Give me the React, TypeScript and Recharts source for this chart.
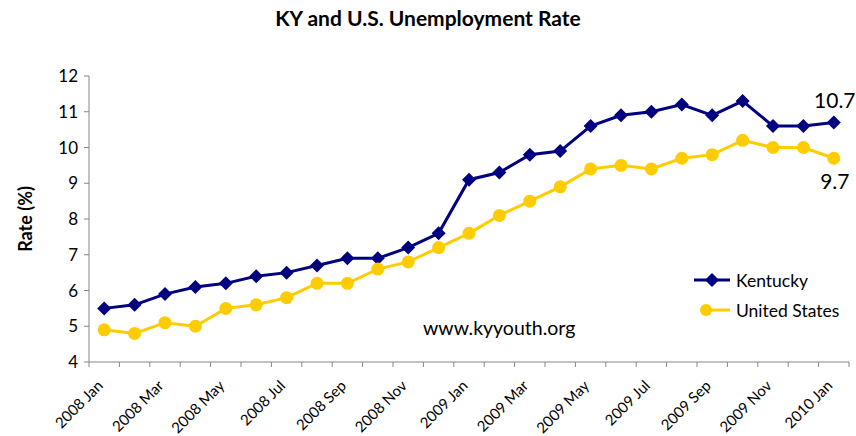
import { LineChart, Line, XAxis, YAxis, LabelList, Label } from 'recharts';

const months = [
  '2008 Jan', '2008 Feb', '2008 Mar', '2008 Apr', '2008 May', '2008 Jun', '2008 Jul', '2008 Aug',
  '2008 Sep', '2008 Oct', '2008 Nov', '2008 Dec', '2009 Jan', '2009 Feb', '2009 Mar', '2009 Apr',
  '2009 May', '2009 Jun', '2009 Jul', '2009 Aug', '2009 Sep', '2009 Oct', '2009 Nov', '2009 Dec',
  '2010 Jan',
];
const kentucky = [
  5.5, 5.6, 5.9, 6.1, 6.2, 6.4, 6.5, 6.7, 6.9, 6.9, 7.2, 7.6, 9.1, 9.3, 9.8, 9.9,
  10.6, 10.9, 11.0, 11.2, 10.9, 11.3, 10.6, 10.6, 10.7,
];
const unitedStates = [
  4.9, 4.8, 5.1, 5.0, 5.5, 5.6, 5.8, 6.2, 6.2, 6.6, 6.8, 7.2, 7.6, 8.1, 8.5, 8.9,
  9.4, 9.5, 9.4, 9.7, 9.8, 10.2, 10.0, 10.0, 9.7,
];
const yTicks = [4, 5, 6, 7, 8, 9, 10, 11, 12];

const W = 856;
const H = 436;
const MARGIN = { top: 76, right: 7, bottom: 0, left: 0 };
const Y_AXIS_W = 89;
const PLOT_W = W - MARGIN.left - MARGIN.right - Y_AXIS_W;
const STEP = PLOT_W / months.length;

const NAVY = '#000080';
const GOLD = '#FFCC00';
const AXIS = '#868686';
const FONT = 'Lato, "Open Sans", sans-serif';

const data = months.map((m, i) => ({ idx: i, month: m, ky: kentucky[i], us: unitedStates[i] }));
// tick marks sit between the months, like Excel's category axis
const boundaryTicks = months.map((_, i) => i - 0.5).concat(months.length - 0.5);

function XTick(props: any) {
  const { x, y, payload } = props;
  const i = payload.value + 0.5;
  if (i >= months.length || i % 2 !== 0) return null;
  const lx = x + STEP / 2 - 3;
  const ly = y + 13;
  return (
    <text
      x={lx}
      y={ly}
      textAnchor="end"
      dominantBaseline="middle"
      transform={`rotate(-45 ${lx} ${ly})`}
      fontSize={15}
      fontFamily={FONT}
      fill="#000"
    >
      {months[i]}
    </text>
  );
}

function Diamond(props: any) {
  const { cx, cy, index } = props;
  if (cx == null || cy == null) return null;
  const r = 7;
  return (
    <polygon
      key={`d-${index}`}
      points={`${cx},${cy - r} ${cx + r},${cy} ${cx},${cy + r} ${cx - r},${cy}`}
      fill={NAVY}
    />
  );
}

function LastLabel(dy: number) {
  return (props: any) => {
    const { x, y, value, index } = props;
    if (index !== months.length - 1) return null;
    return (
      <text x={x + 1} y={y + dy} textAnchor="middle" fontSize={21} fontFamily={FONT} fill="#000">
        {value}
      </text>
    );
  };
}

function LegendBox() {
  const row = (label: string, color: string, diamond: boolean) => (
    <div style={{ display: 'flex', alignItems: 'center', height: 30 }}>
      <svg width={40} height={16} style={{ marginRight: 4 }}>
        <line x1={diamond ? 2 : 10} y1={8} x2={38} y2={8} stroke={color} strokeWidth={3} />
        {diamond ? (
          <polygon points="20,1 27,8 20,15 13,8" fill={color} />
        ) : (
          <circle cx={14} cy={8} r={6} fill={color} />
        )}
      </svg>
      <span style={{ fontSize: 17.5, fontFamily: FONT, color: '#000' }}>{label}</span>
    </div>
  );
  return (
    <div>
      {row('Kentucky', NAVY, true)}
      {row('United States', GOLD, false)}
    </div>
  );
}

export default function App() {
  return (
    <div style={{ position: 'absolute', left: 0, top: 0, width: W, height: H, background: '#fff' }}>
      <div
        style={{
          position: 'absolute',
          top: 5,
          width: W,
          textAlign: 'center',
          fontFamily: FONT,
          fontWeight: 700,
          fontSize: 21,
        }}
      >
        KY and U.S. Unemployment Rate
      </div>
      <div
        style={{
          position: 'absolute',
          left: 423,
          top: 316,
          fontFamily: FONT,
          fontSize: 19.5,
        }}
      >
        www.kyyouth.org
      </div>
      <div style={{ position: 'absolute', left: 692, top: 265 }}>
        <LegendBox />
      </div>
      <LineChart width={W} height={H} data={data} margin={MARGIN}>
        <XAxis
          dataKey="idx"
          type="number"
          domain={[-0.5, months.length - 0.5]}
          ticks={boundaryTicks}
          interval={0}
          allowDecimals
          tick={<XTick />}
          tickSize={5}
          tickMargin={4}
          stroke={AXIS}
          height={74}
        />
        <YAxis
          domain={[4, 12]}
          ticks={yTicks}
          interval={0}
          width={Y_AXIS_W}
          tickSize={5}
          tickMargin={6}
          stroke={AXIS}
          tick={{ fill: '#000', fontSize: 17, fontFamily: FONT }}
        >
          <Label
            content={(p: any) => {
              const vb = p.viewBox || {};
              const cx = 27;
              const cy = (vb.y ?? 76) + (vb.height ?? 286) / 2;
              return (
                <text
                  x={cx}
                  y={cy}
                  transform={`rotate(-90 ${cx} ${cy})`}
                  textAnchor="middle"
                  dominantBaseline="middle"
                  fontSize={18}
                  fontWeight={700}
                  fontFamily={FONT}
                  fill="#000"
                >
                  Rate (%)
                </text>
              );
            }}
          />
        </YAxis>
        <Line
          type="linear"
          dataKey="ky"
          name="Kentucky"
          stroke={NAVY}
          strokeWidth={3}
          dot={<Diamond />}
          isAnimationActive={false}
        >
          <LabelList dataKey="ky" content={LastLabel(-14)} />
        </Line>
        <Line
          type="linear"
          dataKey="us"
          name="United States"
          stroke={GOLD}
          strokeWidth={3}
          dot={{ r: 6.5, fill: GOLD, stroke: GOLD, strokeWidth: 0 }}
          isAnimationActive={false}
        >
          <LabelList dataKey="us" content={LastLabel(31)} />
        </Line>
      </LineChart>
    </div>
  );
}
